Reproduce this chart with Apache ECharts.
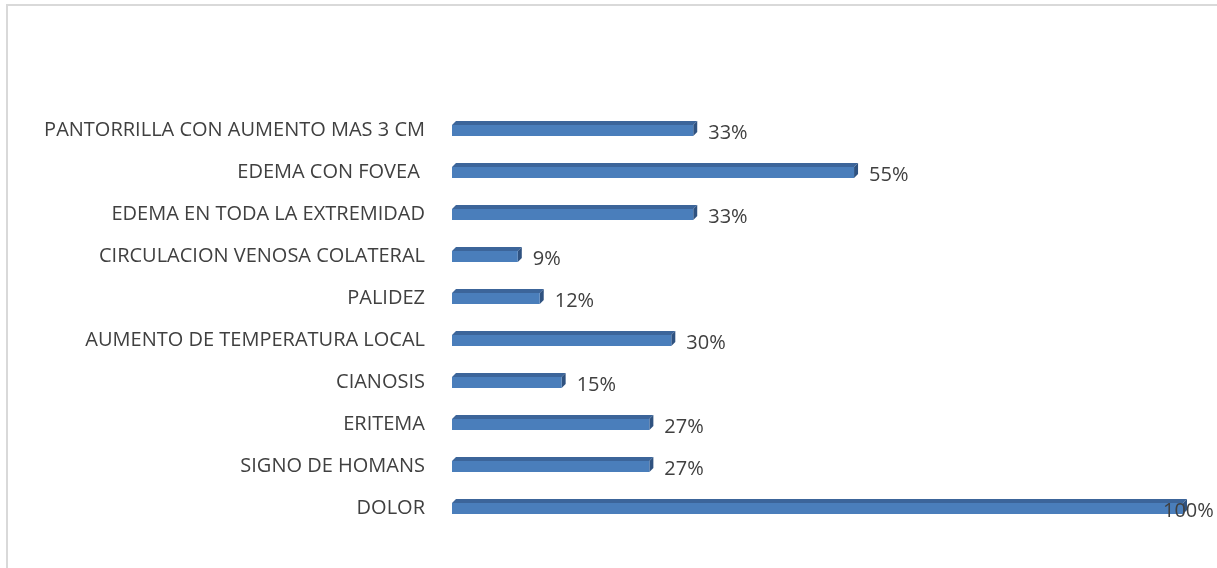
<!DOCTYPE html>
<html>
<head>
<meta charset="utf-8">
<script src="https://cdn.jsdelivr.net/npm/echarts@6/dist/echarts.min.js"></script>
<style>
html,body{margin:0;padding:0;background:#fff;}
#frame{position:absolute;left:6px;top:4px;width:1215px;height:570px;border-left:2px solid #d9d9d9;border-top:2px solid #d9d9d9;box-sizing:border-box;}
#main{position:absolute;left:0;top:0;width:1217px;height:568px;}
</style>
</head>
<body>
<div id="frame"></div>
<div id="main"></div>
<script>
// categories from bottom to top, as drawn
var categories = ['DOLOR','SIGNO DE HOMANS','ERITEMA','CIANOSIS','AUMENTO DE TEMPERATURA LOCAL','PALIDEZ','CIRCULACION VENOSA COLATERAL','EDEMA EN TODA LA EXTREMIDAD','EDEMA CON FOVEA ','PANTORRILLA CON AUMENTO MAS 3 CM'];
var values = [100,27,27,15,30,12,9,33,55,33];
var labels = ['100%','27%','27%','15%','30%','12%','9%','33%','55%','33%'];

var myChart = echarts.init(document.getElementById('main'));
var depth = 4;

function renderBar(params, api) {
	var idx = api.value(0);
	var val = api.value(1);
	var start = api.coord([0, idx]);
	var end = api.coord([val, idx]);
	var h = 11;
	var x0 = start[0], x1 = end[0];
	var yt = start[1] - 5, yb = yt + h;
	var lx = x1 + depth + 11;
	if (lx > 1163) lx = 1163;
	return {
		type:'group',
		children:[{
			type:'polygon',
			shape:{points:[[x0,yt],[x1,yt],[x1+depth,yt-depth],[x0+depth,yt-depth]]},
			style:{fill:'#3c659a'}
		},{
			type:'polygon',
			shape:{points:[[x1,yt],[x1+depth,yt-depth],[x1+depth,yb-depth],[x1,yb]]},
			style:{fill:'#2f5280'}
		},{
			type:'rect',
			shape:{x:x0,y:yt,width:x1-x0,height:h},
			style:{fill:'#4a7ebb'}
		},{
			type:'text',
			style:{text:labels[params.dataIndex],x:lx,y:start[1]+3,textVerticalAlign:'middle',fill:'#404040',font:'20px "Open Sans"'}
		}]
	};
}

option = {
	animation:false,
	grid:{
		left:452,
		right:34,
		top:109,
		bottom:39
	},
	xAxis:{
		type:'value',
		min:0,
		max:100,
		show:false
	},
	yAxis:{
		type:'category',
		data:categories,
		axisLine:{show:false},
		axisTick:{show:false},
		axisLabel:{
			margin:27,
			color:'#404040',
			fontSize:20,
			fontFamily:'Open Sans'
		}
	},
	series:[{
		type:'custom',
		renderItem:renderBar,
		encode:{x:1,y:0},
		data:values.map(function(v,i){return [i,v];})
	}]
};
myChart.setOption(option);
</script>
</body>
</html>
